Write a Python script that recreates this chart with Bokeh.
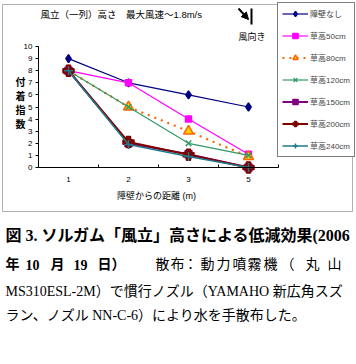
from bokeh.plotting import figure
from bokeh.models import (Range1d, LinearAxis, FixedTicker, Legend, LegendItem,
                          Label, Arrow, NormalHead, BoxAnnotation)
from bokeh.embed import file_html
from bokeh.resources import INLINE

# ---------------- data ----------------
distances = ["1", "2", "3", "5"]
series_names = ["障壁なし", "草高50cm", "草高80cm", "草高120cm",
                "草高150cm", "草高200cm", "草高240cm"]
no_barrier = [9, 7, 6, 5]
h50 = [8, 7, 4, 1.1]
h80 = [8, 5, 3, 0.9]
h120 = [8, 5, 2, 1.0]
h150 = [8, 2.0, 1.1, 0]
h200 = [8, 2.1, 1.05, 0]
h240 = [8, 1.9, 0.9, 0]
y_ticks = list(range(0, 11))

chart_title = "風立（一列）高さ　最大風速～1.8m/s"
wind_label = "風向き"
y_title = "付\n着\n指\n数"
x_title = "障壁からの距離 (m)"
caption1 = "図 3.  ソルガム「風立」高さによる低減効果(2006"
caption2_bold = ["年", "10", "月", "19", "日）"]
caption2_reg = list("散布：動力噴霧機（丸山")
caption3 = "MS310ESL-2M）で慣行ノズル（YAMAHO 新広角スズ"
caption4 = "ラン、ノズル NN-C-6）により水を手散布した。"

values = [no_barrier, h50, h80, h120, h150, h200, h240]
pos = [i + 1 for i in range(len(distances))]

F_SANS = "'Liberation Sans', 'Noto Sans CJK JP'"
F_SERIF = "'Liberation Serif', 'Noto Sans CJK JP'"

# canvas and plot-area geometry (pixels)
W, H = 356, 364
FL, FT, FR, FB = 38, 46, 278, 167
x0, x1 = 0.5, len(distances) + 0.5
y0, y1 = 0, 10
kx = (FR - FL) / (x1 - x0)
ky = (FB - FT) / (y1 - y0)

# the frame spans the whole canvas; the axes are pinned inside it
p = figure(width=W, height=H, output_backend="svg", toolbar_location=None,
           x_range=Range1d(x0 - FL / kx, x0 + (W - FL) / kx),
           y_range=Range1d(y0 - (H - FB) / ky, y0 + FB / ky),
           min_border=0, x_axis_location=None, y_axis_location=None)
p.outline_line_color = None
p.background_fill_color = "white"
p.border_fill_color = "white"
for g in p.grid:
    g.visible = False

xaxis = LinearAxis(ticker=FixedTicker(ticks=pos, minor_ticks=[1.5, 2.5, 3.5, 4.5]),
                   major_label_overrides={pp: d for pp, d in zip(pos, distances)},
                   fixed_location=y0, bounds=(x0, x1))
xaxis.major_tick_in = 0
xaxis.major_tick_out = 0
xaxis.minor_tick_in = 3
xaxis.minor_tick_out = 0
xaxis.minor_tick_line_color = "black"
xaxis.axis_line_color = "black"
xaxis.major_label_standoff = 9
xaxis.major_label_text_font = F_SANS
xaxis.major_label_text_font_size = "8px"
xaxis.major_label_text_color = "black"
p.add_layout(xaxis, "below")

yaxis = LinearAxis(ticker=FixedTicker(ticks=y_ticks), fixed_location=x0, bounds=(y0, y1))
yaxis.major_tick_in = 0
yaxis.major_tick_out = 3
yaxis.minor_tick_line_color = None
yaxis.axis_line_color = "black"
yaxis.major_label_standoff = 3
yaxis.major_label_text_font = F_SANS
yaxis.major_label_text_font_size = "8px"
yaxis.major_label_text_color = "black"
p.add_layout(yaxis, "left")

styles = [
    dict(color="#000080", width=1.2, dash="solid", marker="diamond", size=8, fill="#000080", lcol="#000080"),
    dict(color="#FF00FF", width=1.2, dash="solid", marker="square", size=6, fill="#FF00FF", lcol="#FF00FF"),
    dict(color="#FF6600", width=2.2, dash="2 5", marker="triangle", size=10, fill="#FFCC00", lcol="#FF6600"),
    dict(color="#339966", width=1.2, dash="solid", marker="x", size=8, fill="#339966", lcol="#339966"),
    dict(color="#800080", width=2, dash="solid", marker="square", size=7, fill="#800080", lcol="#800080"),
    dict(color="#800000", width=2, dash="solid", marker="plus", size=11, fill="#800000", lcol="#800000"),
    dict(color="#1F7A8C", width=1.5, dash="solid", marker="cross", size=9, fill="#1F7A8C", lcol="#1F7A8C"),
]

items = []
for name, vals, st in zip(series_names, values, styles):
    r1 = p.line(pos, vals, line_color=st["color"], line_width=st["width"], line_dash=st["dash"])
    r2 = p.scatter(pos, vals, marker=st["marker"], size=st["size"],
                   fill_color=st["fill"], line_color=st["lcol"], line_width=1.5)
    items.append(LegendItem(label=name, renderers=[r1, r2]))


def X(px):
    return px


def Y(py):
    return H - py


legend = Legend(items=items, location=(X(277), Y(157)))
legend.border_line_color = "black"
legend.border_line_width = 1
legend.background_fill_color = "white"
legend.background_fill_alpha = 1
legend.label_text_font = F_SANS
legend.label_text_font_size = "8px"
legend.glyph_width = 26
legend.glyph_height = 13
legend.label_height = 13
legend.label_width = 40
legend.spacing = 9
legend.padding = 4
legend.margin = 0
legend.label_standoff = 2
p.add_layout(legend, "center")


def lab(text, px, py, size, font=F_SANS, bold=False, align="left", lh=1.2):
    p.add_layout(Label(x=X(px), y=Y(py), x_units="screen", y_units="screen", text=text,
                       text_font=font, text_font_size=size, text_align=align,
                       text_baseline="middle", text_font_style="bold" if bold else "normal",
                       text_color="black", text_line_height=lh))


# outer frame of the chart
p.add_layout(BoxAnnotation(left=X(2), right=X(352), top=Y(4), bottom=Y(211),
                           left_units="screen", right_units="screen",
                           top_units="screen", bottom_units="screen",
                           fill_color=None, line_color="black", line_width=1))

lab(chart_title, 40, 14, "9.5px")
lab(wind_label, 238, 36, "9px")
lab(y_title, 20, 103, "10px", bold=True, align="center", lh=1.25)
lab(x_title, 156, 195, "9px", align="center")

# wind arrow
p.add_layout(Arrow(x_start=X(238), y_start=Y(8), x_end=X(248), y_end=Y(19),
                   start_units="screen", end_units="screen", line_width=2,
                   end=NormalHead(size=7, fill_color="black", line_color="black")))
p.add_layout(Arrow(x_start=X(251), y_start=Y(8), x_end=X(251), y_end=Y(24),
                   start_units="screen", end_units="screen", line_width=2, end=None))

# caption
lab(caption1, 5, 235, "16px", font=F_SERIF, bold=True)
bold_x = [5, 25, 50, 73, 97]
for t, xx in zip(caption2_bold, bold_x):
    lab(t, xx, 264, "14px", font=F_SERIF, bold=True)
reg_x = [155, 170, 183, 200, 216, 232, 247, 263, 280, 305, 327]
for t, xx in zip(caption2_reg, reg_x):
    lab(t, xx, 264, "14px", font=F_SERIF)
lab(caption3, 5, 291, "14px", font=F_SERIF)
lab(caption4, 5, 315, "14px", font=F_SERIF)

open("out.html", "w").write(file_html(p, INLINE))
